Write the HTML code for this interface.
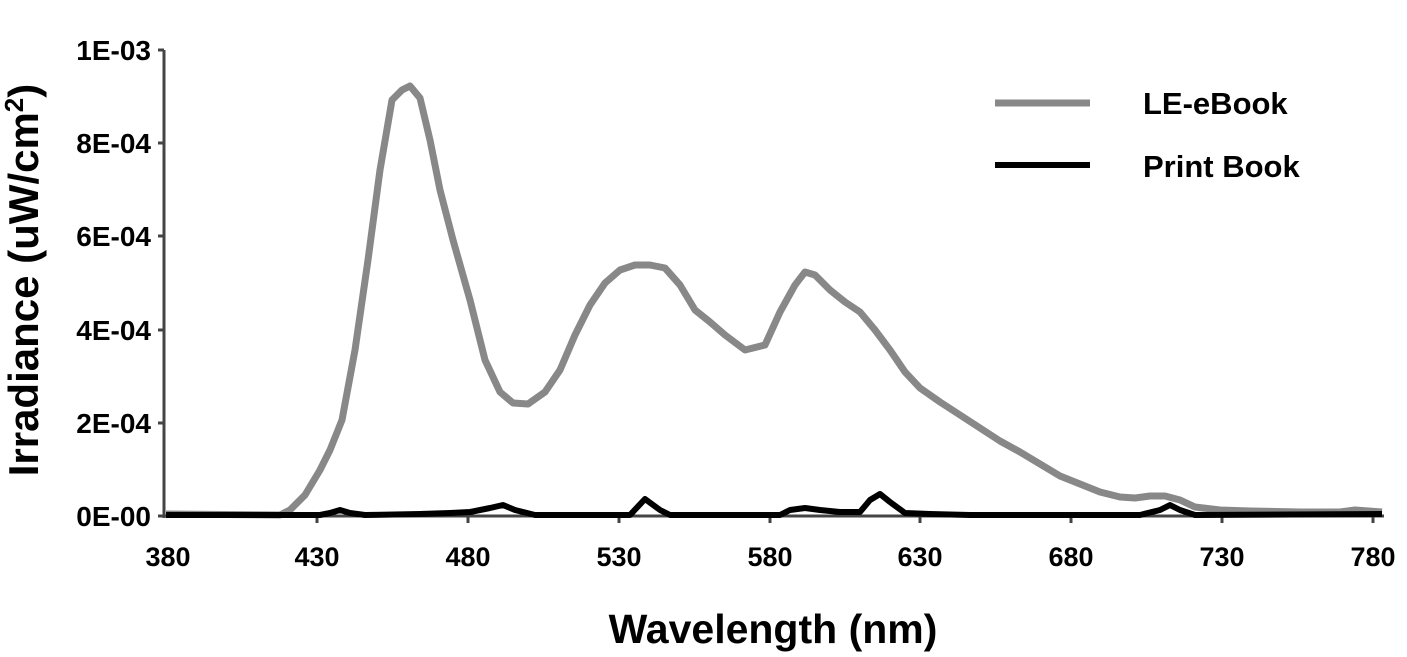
<!DOCTYPE html>
<html><head><meta charset="utf-8"><style>
html,body{margin:0;padding:0;background:#fff;}
svg{display:block;}
text{font-family:"Liberation Sans",Arial,sans-serif;font-weight:bold;fill:#000;}
</style></head><body>
<svg width="1407" height="657" viewBox="0 0 1407 657" xmlns="http://www.w3.org/2000/svg">
<g stroke="#444" stroke-width="3">
<line x1="164" y1="50" x2="164" y2="518"/>
<line x1="164" y1="516" x2="1384" y2="516"/>
<line x1="158" y1="50" x2="164" y2="50"/>
<line x1="158" y1="143" x2="164" y2="143"/>
<line x1="158" y1="236" x2="164" y2="236"/>
<line x1="158" y1="330" x2="164" y2="330"/>
<line x1="158" y1="423" x2="164" y2="423"/>
<line x1="158" y1="516" x2="164" y2="516"/>
<line x1="317" y1="516" x2="317" y2="523"/>
<line x1="468" y1="516" x2="468" y2="523"/>
<line x1="619" y1="516" x2="619" y2="523"/>
<line x1="770" y1="516" x2="770" y2="523"/>
<line x1="920" y1="516" x2="920" y2="523"/>
<line x1="1071" y1="516" x2="1071" y2="523"/>
<line x1="1222" y1="516" x2="1222" y2="523"/>
<line x1="1373" y1="516" x2="1373" y2="523"/>
</g>
<g font-size="28" text-anchor="end">
<text x="151" y="60">1E-03</text>
<text x="151" y="153">8E-04</text>
<text x="151" y="246">6E-04</text>
<text x="151" y="340">4E-04</text>
<text x="151" y="433">2E-04</text>
<text x="151" y="526">0E-00</text>
</g>
<g font-size="27" text-anchor="middle">
<text x="168" y="566">380</text>
<text x="317" y="566">430</text>
<text x="468" y="566">480</text>
<text x="619" y="566">530</text>
<text x="770" y="566">580</text>
<text x="920" y="566">630</text>
<text x="1071" y="566">680</text>
<text x="1222" y="566">730</text>
<text x="1373" y="566">780</text>
</g>
<text x="773" y="643" font-size="41" text-anchor="middle">Wavelength (nm)</text>
<text transform="translate(38,280) rotate(-90)" font-size="42" text-anchor="middle">Irradiance (uW/cm<tspan font-size="26" dy="-15">2</tspan><tspan dy="15">)</tspan></text>
<polyline fill="none" stroke="#888" stroke-width="7" stroke-linejoin="round" points="166,514 280,515 290,510 305,495 320,470 330,450 342,420 355,350 368,260 380,170 392,100 402,90 410,86 420,98 430,140 440,190 453,240 470,300 485,360 500,392 513,403 528,404 545,392 560,370 575,335 590,305 605,283 620,270 635,265 650,265 665,268 680,285 695,310 710,322 725,335 745,350 765,345 780,312 795,285 805,272 815,275 830,290 845,302 860,312 875,330 890,350 905,372 920,388 940,402 960,415 980,428 1000,441 1020,452 1040,464 1060,476 1080,484 1100,492 1120,497 1135,498 1150,496 1165,496 1180,500 1195,507 1220,510 1250,511 1300,512 1340,512 1355,510 1382,512"/>
<polyline fill="none" stroke="#000" stroke-width="6" stroke-linejoin="round" points="166,515 320,515 330,513 340,510 350,513 365,515 420,514 450,513 470,512 490,508 503,505 515,510 535,515 630,515 645,499 660,510 670,515 780,515 790,510 805,508 820,510 840,512 860,512 870,500 880,494 890,502 905,513 930,514 970,515 1100,515 1140,515 1160,510 1170,505 1180,510 1195,515 1382,514"/>
<line x1="995" y1="103" x2="1090" y2="103" stroke="#888" stroke-width="7"/>
<line x1="995" y1="165" x2="1090" y2="165" stroke="#000" stroke-width="6"/>
<text x="1143" y="114" font-size="31">LE-eBook</text>
<text x="1143" y="177" font-size="31">Print Book</text>
</svg>
</body></html>
